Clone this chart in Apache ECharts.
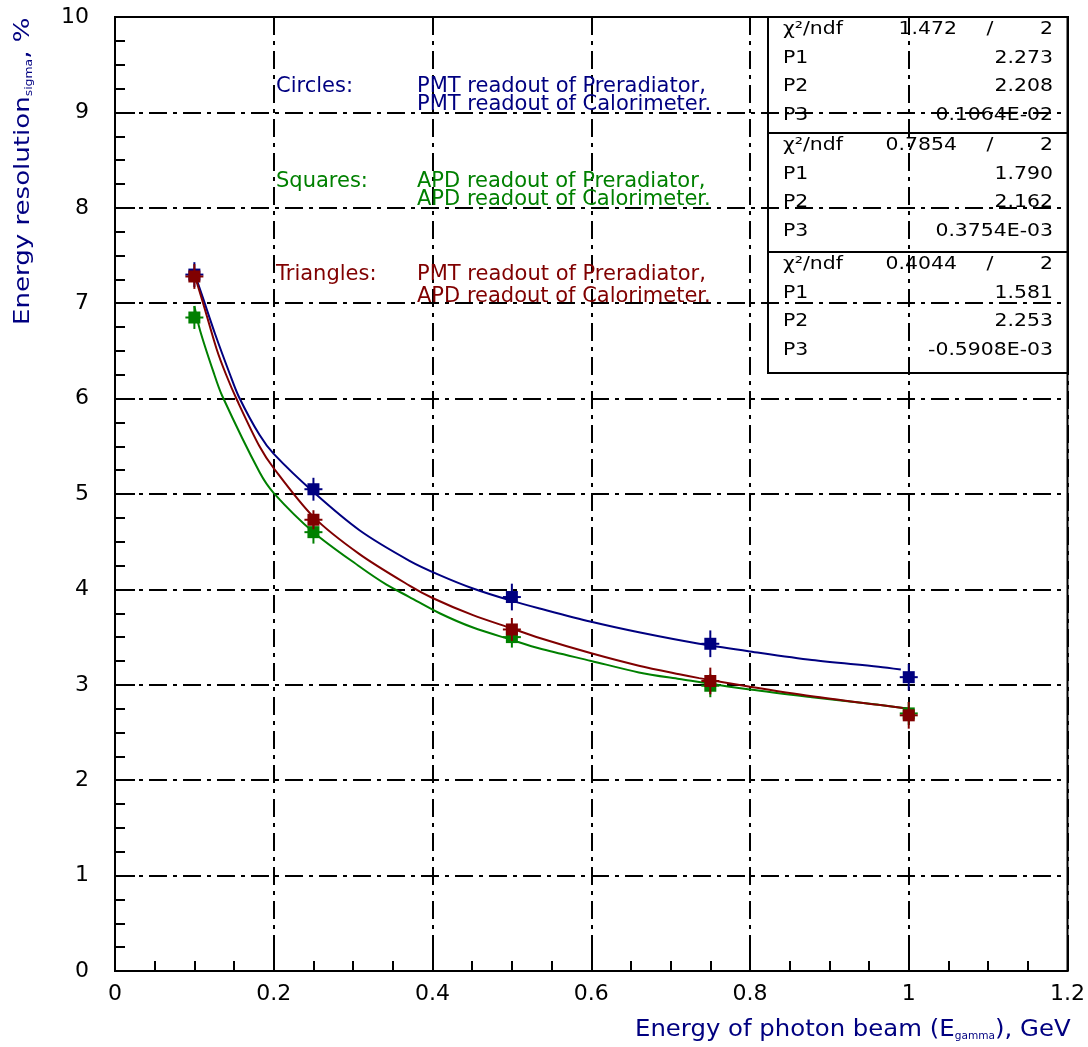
<!DOCTYPE html>
<html><head><meta charset="utf-8">
<script src="https://cdn.jsdelivr.net/npm/echarts@6/dist/echarts.min.js"></script>
<style>html,body{margin:0;padding:0;background:#fff}#c{width:1088px;height:1047px}</style>
</head><body><div id="c"></div>
<script>
// ---- measured data ----
const energies = [0.1, 0.25, 0.5, 0.75, 1.0];
const circlesY = [7.30, 5.05, 3.92, 3.43, 3.08];
const circlesErr = [0.13, 0.12, 0.14, 0.14, 0.14];
const squaresY = [6.85, 4.60, 3.50, 2.99, 2.70];
const squaresErr = [0.12, 0.12, 0.11, 0.12, 0.12];
const trianglesY = [7.28, 4.73, 3.58, 3.04, 2.68];
const trianglesErr = [0.13, 0.10, 0.12, 0.14, 0.14];

// fit curves
const fitCirclesX = [0.100, 0.111, 0.126, 0.145, 0.156, 0.182, 0.200, 0.250, 0.308, 0.371, 0.409, 0.451, 0.500, 0.535, 0.600, 0.660, 0.736, 0.800, 0.878, 0.962, 0.990];
const fitCirclesY = [7.32, 7.05, 6.68, 6.25, 6.02, 5.62, 5.42, 5.02, 4.62, 4.30, 4.15, 4.01, 3.88, 3.80, 3.66, 3.55, 3.43, 3.35, 3.26, 3.19, 3.16];
const fitTrianglesX = [0.100, 0.111, 0.128, 0.140, 0.154, 0.182, 0.200, 0.250, 0.308, 0.371, 0.400, 0.451, 0.500, 0.535, 0.600, 0.660, 0.711, 0.736, 0.800, 0.878, 0.962, 1.000];
const fitTrianglesY = [7.30, 7.00, 6.52, 6.25, 5.98, 5.50, 5.27, 4.76, 4.37, 4.04, 3.91, 3.73, 3.59, 3.49, 3.33, 3.20, 3.11, 3.07, 2.98, 2.88, 2.79, 2.75];
const fitSquaresX = [0.100, 0.107, 0.124, 0.135, 0.182, 0.200, 0.250, 0.308, 0.342, 0.371, 0.409, 0.451, 0.500, 0.535, 0.600, 0.660, 0.711, 0.736, 0.800, 0.878, 0.962, 1.000];
const fitSquaresY = [6.97, 6.72, 6.28, 6.03, 5.23, 5.01, 4.60, 4.24, 4.05, 3.92, 3.75, 3.60, 3.47, 3.38, 3.25, 3.13, 3.06, 3.03, 2.95, 2.87, 2.79, 2.75];

const xTickMin = 0, xTickMax = 1.2, xTickStep = 0.2;
const yTickMin = 0, yTickMax = 10, yTickStep = 1;

const statCircles = [['χ²/ndf', '1.472', '2'], ['P1', '2.273'], ['P2', '2.208'], ['P3', '0.1064E-02']];
const statSquares = [['χ²/ndf', '0.7854', '2'], ['P1', '1.790'], ['P2', '2.162'], ['P3', '0.3754E-03']];
const statTriangles = [['χ²/ndf', '0.4044', '2'], ['P1', '1.581'], ['P2', '2.253'], ['P3', '-0.5908E-03']];

const notes = [
  ['Circles:', 'PMT readout of Preradiator,', 'PMT readout of Calorimeter.'],
  ['Squares:', 'APD readout of Preradiator,', 'APD readout of Calorimeter.'],
  ['Triangles:', 'PMT readout of Preradiator,', 'APD readout of Calorimeter.']
];

// ---- styles ----
const BLUE = '#000080', GREEN = '#008000', RED = '#800000';
const FONT = 'DejaVu Sans';

function zip(xs, ys) { return xs.map((x, i) => [x, ys[i]]); }

function fitSeries(xs, ys, color, z) {
  return { type: 'line', data: zip(xs, ys), symbol: 'none', smooth: 0.3, z: z,
    lineStyle: { color: color, width: 2 }, silent: true };
}

function markerSeries(ys, errs, color, z) {
  return {
    type: 'custom', z: z, encode: { x: 0, y: 1 },
    data: energies.map((e, i) => [e, ys[i], errs[i]]),
    renderItem: function (params, api) {
      const x = api.value(0), y = api.value(1), er = api.value(2);
      const c = api.coord([x, y]);
      const t = api.coord([x, y + er]);
      const b = api.coord([x, y - er]);
      return { type: 'group', children: [
        { type: 'line', shape: { x1: c[0], y1: t[1], x2: c[0], y2: b[1] }, style: { stroke: color, lineWidth: 2 } },
        { type: 'line', shape: { x1: c[0] - 9, y1: c[1], x2: c[0] + 9, y2: c[1] }, style: { stroke: color, lineWidth: 2 } },
        { type: 'rect', shape: { x: c[0] - 6, y: c[1] - 6, width: 12, height: 12 }, style: { fill: color } }
      ] };
    }
  };
}

function txt(x, y, text, o) {
  o = o || {};
  return { type: 'text', x: x, y: y, rotation: o.rotation || 0, scaleX: o.scaleX || 1, z: 100,
    style: { text: text, fill: o.color || '#000', fontFamily: FONT, fontSize: o.size || 17,
      align: o.align || 'left', verticalAlign: 'middle', rich: o.rich } };
}

const graphics = [];
// stats boxes
const boxes = [[17, 133, statCircles], [133, 252, statSquares], [252, 373, statTriangles]];
boxes.forEach(([top, bot, rows]) => {
  graphics.push({ type: 'rect', z: 90, shape: { x: 768, y: top, width: 300, height: bot - top },
    style: { fill: 'none', stroke: '#000', lineWidth: 2 } });
  rows.forEach((r, i) => {
    const yc = top + 13 + 28.5 * i;
    const so = { size: 17, scaleX: 1.2 };
    graphics.push(txt(783, yc, r[0], so));
    if (r.length === 3) {
      graphics.push(txt(957, yc, r[1], Object.assign({ align: 'right' }, so)));
      graphics.push(txt(990, yc, '/', Object.assign({ align: 'center' }, so)));
      graphics.push(txt(1053, yc, r[2], Object.assign({ align: 'right' }, so)));
    } else {
      graphics.push(txt(1053, yc, r[1], Object.assign({ align: 'right' }, so)));
    }
  });
});
// annotations
const noteColors = [BLUE, GREEN, RED];
const noteCenters = [[87, 105], [182, 200], [275, 297]];
notes.forEach((n, i) => {
  const c = noteColors[i];
  graphics.push(txt(276, noteCenters[i][0], n[0], { size: 21, color: c }));
  graphics.push(txt(417, noteCenters[i][0], n[1], { size: 21, color: c }));
  graphics.push(txt(417, noteCenters[i][1], n[2], { size: 21, color: c }));
});
// axis titles
graphics.push(txt(635, 1030, '{t|Energy of photon beam (E}{s|gamma}{t|), GeV}', {
  color: BLUE, size: 23, scaleX: 1.06,
  rich: { t: { fontSize: 23, fontFamily: FONT, fill: BLUE }, s: { fontSize: 10, fontFamily: FONT, fill: BLUE, verticalAlign: 'bottom' } }
}));
graphics.push(txt(24, 325, '{t|Energy resolution}{s|sigma}{t|, %}', {
  color: BLUE, size: 21, rotation: Math.PI / 2, scaleX: 1.24,
  rich: { t: { fontSize: 21, fontFamily: FONT, fill: BLUE }, s: { fontSize: 10, fontFamily: FONT, fill: BLUE, verticalAlign: 'bottom' } }
}));

const dashDot = [18, 6, 4, 6];
function axisCommon() {
  return {
    type: 'value',
    axisLine: { show: true, onZero: false, lineStyle: { color: '#000', width: 2 } },
    axisTick: { show: true, inside: true, length: 20, lineStyle: { color: '#000', width: 2 } },
    minorTick: { show: true, splitNumber: 4, length: 10, lineStyle: { color: '#000', width: 2 } },
    splitLine: { show: true, lineStyle: { color: '#000', width: 2, type: dashDot } },
    minorSplitLine: { show: false }
  };
}

const chart = echarts.init(document.getElementById('c'), null, { renderer: 'canvas' });
chart.setOption({
  animation: false,
  backgroundColor: '#fff',
  grid: { left: 115, right: 20, top: 17, bottom: 76, show: true, borderColor: '#000', borderWidth: 2, backgroundColor: 'transparent' },
  xAxis: Object.assign(axisCommon(), {
    min: xTickMin, max: xTickMax, interval: xTickStep,
    axisLabel: { color: '#000', fontSize: 22, fontFamily: FONT, margin: 12,
      formatter: v => String(+v.toFixed(1)) }
  }),
  yAxis: Object.assign(axisCommon(), {
    min: yTickMin, max: yTickMax, interval: yTickStep,
    axisLabel: { color: '#000', fontSize: 22, fontFamily: FONT, margin: 26 }
  }),
  series: [
    fitSeries(fitCirclesX, fitCirclesY, BLUE, 3),
    fitSeries(fitSquaresX, fitSquaresY, GREEN, 3),
    fitSeries(fitTrianglesX, fitTrianglesY, RED, 4),
    markerSeries(circlesY, circlesErr, BLUE, 5),
    markerSeries(squaresY, squaresErr, GREEN, 6),
    markerSeries(trianglesY, trianglesErr, RED, 7)
  ],
  graphic: graphics
});
</script>
</body></html>
